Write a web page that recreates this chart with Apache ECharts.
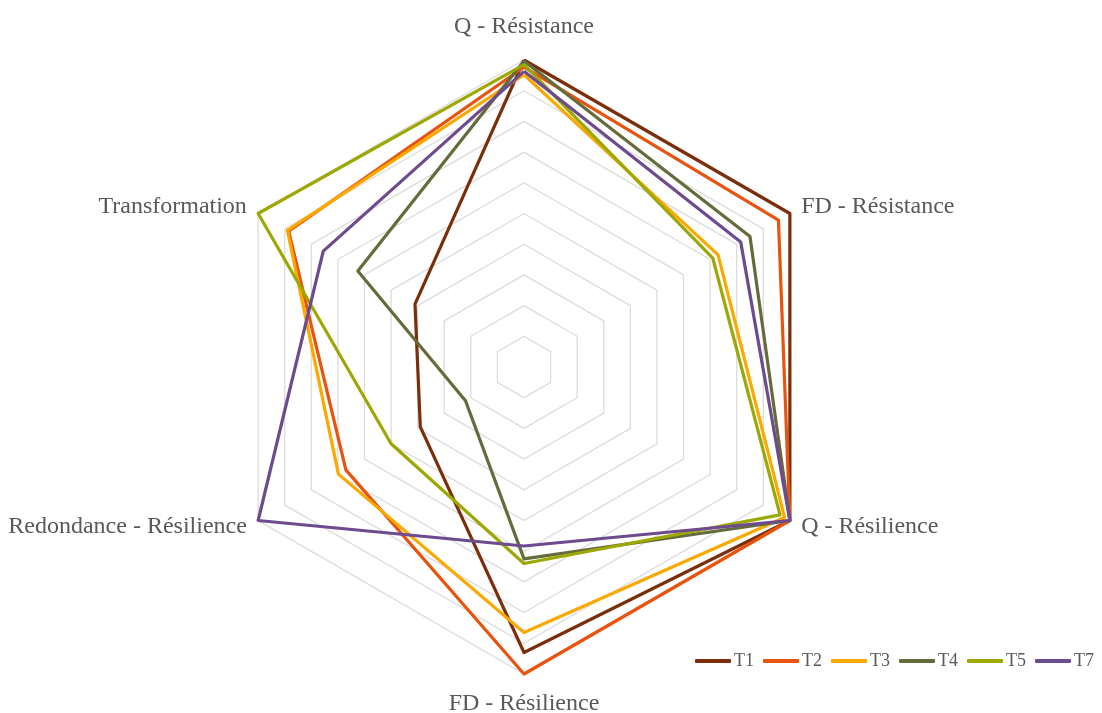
<!DOCTYPE html>
<html>
<head>
<meta charset="utf-8">
<script src="https://cdn.jsdelivr.net/npm/echarts@6/dist/echarts.min.js"></script>
<style>
html,body{margin:0;padding:0;background:#fff;}
#chart{width:1102px;height:713px;}
</style>
</head>
<body>
<div id="chart"></div>
<script>
// Indicators in ECharts (counter-clockwise from top) order
const indicators = ['Q - Résistance', 'Transformation', 'Redondance - Résilience', 'FD - Résilience', 'Q - Résilience', 'FD - Résistance'];
const seriesNames = ['T1', 'T2', 'T3', 'T4', 'T5', 'T7'];
const T1 = [1.0, 0.41, 0.39, 0.93, 1.0, 1.0];
const T2 = [0.977, 0.885, 0.67, 1.0, 1.0, 0.957];
const T3 = [0.952, 0.89, 0.698, 0.865, 0.98, 0.73];
const T4 = [0.997, 0.625, 0.22, 0.625, 1.0, 0.85];
const T5 = [0.985, 1.0, 0.50, 0.64, 0.963, 0.71];
const T7 = [0.963, 0.755, 1.0, 0.583, 1.0, 0.815];
const colors = ['#7A2E0A', '#E8540E', '#FBA800', '#656B3A', '#9DA804', '#6E4A8F'];

const values = [T1, T2, T3, T4, T5, T7];
const chart = echarts.init(document.getElementById('chart'), null, {renderer: 'canvas'});
chart.setOption({
  backgroundColor: '#ffffff',
  animation: false,
  color: colors,
  legend: {
    data: seriesNames,
    right: 3,
    top: 647,
    icon: 'roundRect',
    itemWidth: 36,
    itemHeight: 4,
    itemGap: 9,
    textStyle: {fontFamily: 'Liberation Serif', fontSize: 18, color: '#595959', padding: [0, 0, 0, -2]}
  },
  radar: {
    center: [524, 367],
    radius: 307,
    startAngle: 90,
    splitNumber: 10,
    shape: 'polygon',
    nameGap: 13,
    indicator: indicators.map(n => ({name: n, max: 1, min: 0})),
    axisName: {
      color: '#595959',
      fontFamily: 'Liberation Serif',
      fontSize: 24,
      formatter: function (v) {
        if (v === 'Q - Résistance') return '{top|' + v + '}';
        if (v === 'FD - Résilience') return '{bot|' + v + '}';
        return v;
      },
      rich: {
        top: {color: '#595959', fontFamily: 'Liberation Serif', fontSize: 24, padding: [0, 0, 8, 0]},
        bot: {color: '#595959', fontFamily: 'Liberation Serif', fontSize: 24, padding: [5, 0, 0, 0]}
      }
    },
    axisLine: {show: false},
    axisTick: {show: false},
    axisLabel: {show: false},
    splitArea: {show: false},
    splitLine: {lineStyle: {color: '#dcdcdc', width: 1.3}}
  },
  series: [{
    type: 'radar',
    symbol: 'none',
    data: seriesNames.map((n, i) => ({
      name: n,
      value: values[i],
      lineStyle: {color: colors[i], width: 3.2},
      itemStyle: {color: colors[i]}
    }))
  }]
});
</script>
</body>
</html>
